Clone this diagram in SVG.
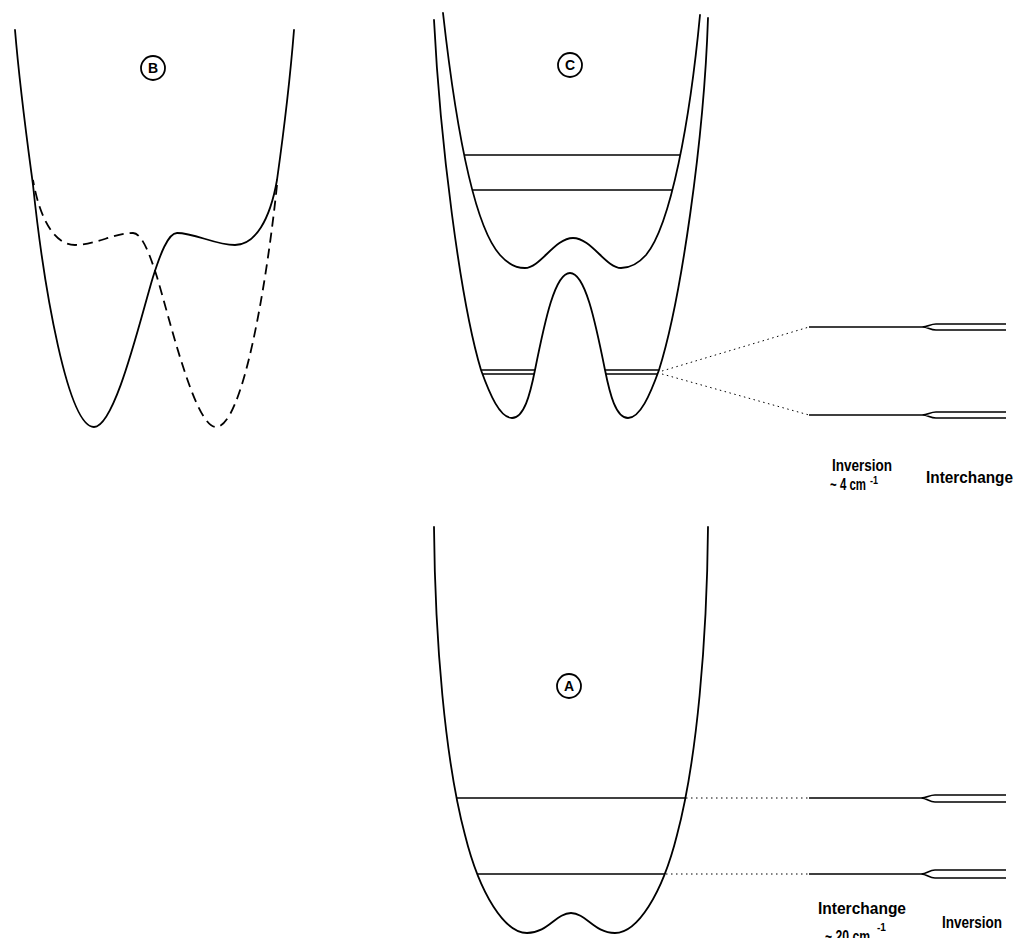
<svg xmlns="http://www.w3.org/2000/svg" width="1017" height="938" viewBox="0 0 1017 938">
<style>
.curve{fill:none;stroke:#000;stroke-width:1.8;stroke-linejoin:round;stroke-linecap:round}
.dash{fill:none;stroke:#000;stroke-width:1.8;stroke-dasharray:10 6}
.lvl{fill:none;stroke:#000;stroke-width:1.5}
.dot{fill:none;stroke:#000;stroke-width:1;stroke-dasharray:1.5 3.5}
.circ{fill:none;stroke:#000;stroke-width:1.8}
.lab{font-family:"Liberation Sans",Arial,sans-serif;font-weight:bold;font-size:14px;fill:#000}
.txt{font-family:"Liberation Sans",Arial,sans-serif;font-weight:bold;font-size:16px;fill:#000}
.sup{font-family:"Liberation Sans",Arial,sans-serif;font-weight:bold;font-size:10px;fill:#000}
</style>
<rect width="1017" height="938" fill="#fff"/>

<g id="panelB">
  <path class="curve" d="M15,30 C20,90 27,140 33,185 C44,290 68,427 94,427 C115,427 140,320 153,277 C160,255 168,233 177,233 C195,233 215,245 235,245 C255,245 270,220 277,180 C284,130 290,80 294,30"/>
  <path class="dash" transform="matrix(-1,0,0,1,310,0)" d="M33,185 C44,290 68,427 94,427 C115,427 140,320 153,277 C160,255 168,233 177,233 C195,233 215,245 235,245 C255,245 270,220 277,180"/>
  <circle class="circ" cx="153" cy="68" r="12"/>
  <text class="lab" x="153" y="73" text-anchor="middle">B</text>
</g>

<g id="panelC">
  <path class="curve" d="M443,13 C455,120 473,225 500,255 C508,264 515,268 525,268 C540,268 555,238 573,238 C591,238 606,268 621,268 C631,268 638,264 646,255 C671,225 690,120 700,15"/>
  <path class="curve" d="M434,20 C440,140 460,300 481,370 C490,395 500,418 512,418 C524,418 530,395 535,370 C545,320 555,273 570,273 C585,273 595,320 605,370 C610,395 616,418 628,418 C640,418 650,395 659,370 C681,300 704,140 708,18"/>
  <line class="lvl" x1="465" y1="155" x2="680" y2="155"/>
  <line class="lvl" x1="472" y1="190" x2="673" y2="190"/>
  <line class="lvl" x1="481" y1="370" x2="535" y2="370"/>
  <line class="lvl" x1="482" y1="374" x2="534" y2="374"/>
  <line class="lvl" x1="605" y1="370" x2="659" y2="370"/>
  <line class="lvl" x1="606" y1="374" x2="658" y2="374"/>
  <circle class="circ" cx="570" cy="65" r="12"/>
  <text class="lab" x="570" y="70" text-anchor="middle">C</text>
</g>

<g id="panelA">
  <path class="curve" d="M434,527 C435,640 445,760 465,835 C480,895 505,933 527,933 C548,933 556,913 571,913 C586,913 594,933 615,933 C637,933 662,895 677,835 C697,760 707,640 708,527"/>
  <line class="lvl" x1="457" y1="798" x2="685" y2="798"/>
  <line class="lvl" x1="477" y1="874" x2="665" y2="874"/>
  <circle class="circ" cx="569" cy="686" r="12"/>
  <text class="lab" x="569" y="691" text-anchor="middle">A</text>
</g>

<g id="connectors">
  <line class="dot" x1="662" y1="371" x2="809" y2="327"/>
  <line class="dot" x1="662" y1="374" x2="809" y2="415"/>
  <line class="dot" x1="686" y1="798" x2="809" y2="798"/>
  <line class="dot" x1="666" y1="874" x2="809" y2="874"/>
</g>

<g id="splitC">
  <path class="lvl" d="M809,327 L922,327 C928,327 930,324 936,324 L1006,324 M922,327 C928,327 930,330 936,330 L1006,330"/>
  <path class="lvl" d="M809,415 L922,415 C928,415 930,412 936,412 L1006,412 M922,415 C928,415 930,418 936,418 L1006,418"/>
  <text class="txt" x="832" y="471" textLength="60" lengthAdjust="spacingAndGlyphs">Inversion</text>
  <text class="txt" x="830" y="490" textLength="36" lengthAdjust="spacingAndGlyphs">~ 4 cm</text>
  <text class="sup" x="870" y="484" textLength="8" lengthAdjust="spacingAndGlyphs">-1</text>
  <text class="txt" x="926" y="483" textLength="87" lengthAdjust="spacingAndGlyphs">Interchange</text>
</g>

<g id="splitA">
  <path class="lvl" d="M809,798 L921,798 C927,798 929,795 935,795 L1006,795 M921,798 C927,798 929,802 935,802 L1006,802"/>
  <path class="lvl" d="M809,874 L921,874 C927,874 929,870 935,870 L1006,870 M921,874 C927,874 929,878 935,878 L1006,878"/>
  <text class="txt" x="818" y="914" textLength="88" lengthAdjust="spacingAndGlyphs">Interchange</text>
  <text class="txt" x="942" y="928" textLength="60" lengthAdjust="spacingAndGlyphs">Inversion</text>
  <text class="txt" x="825" y="942" textLength="45" lengthAdjust="spacingAndGlyphs">~ 20 cm</text>
  <text class="sup" x="877" y="931" textLength="9" lengthAdjust="spacingAndGlyphs">-1</text>
</g>
</svg>
